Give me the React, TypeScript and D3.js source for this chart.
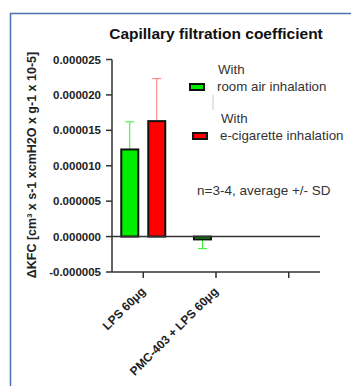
import React from "react"
import * as d3 from "d3"

const W = 351
const H = 386

const categories = ["LPS 60μg", "PMC-403 + LPS 60μg", ""]
const seriesNames = ["With\nroom air inhalation", "With\ne-cigarette inhalation"]
const seriesColors = ["#00ee00", "#ff0000"]
const errorColors = ["#33ee33", "#f77"]
const roomAir = [0.0000123, -0.0000004, null]
const roomAirSD = [0.0000039, 0.0000013, null]
const eCig = [0.0000163, 0, null]
const eCigSD = [0.000006, 0, null]
const yTicks = [0.000025, 0.00002, 0.000015, 0.00001, 0.000005, 0, -0.000005]

const FONT = "'Liberation Sans', Arial, sans-serif"
const AXIS = "#333"

export default function App() {
  const x0 = 112
  const x1 = 320
  const y = d3.scaleLinear().domain([-0.000005, 0.000025]).range([272, 59.5])
  const x = d3.scalePoint<string>().domain(categories).range([x0, x1]).padding(0.43)
  const sub = d3.scaleBand<number>().domain([0, 1]).range([-22, 22]).paddingInner(0.37)
  const series = [
    { values: roomAir, sd: roomAirSD },
    { values: eCig, sd: eCigSD },
  ]

  return (
    <svg width={W} height={H} style={{ position: "absolute", left: 0, top: 0, background: "#fff" }}>
      {/* frame */}
      <path d={`M10.5,${H} V13.5 H${W}`} fill="none" stroke="#4a72b0" strokeWidth={1.5} />

      <text x={216} y={39} textAnchor="middle" fontFamily={FONT} fontWeight="bold" fontSize={15.5} fill="#111">
        Capillary filtration coefficient
      </text>

      {/* y label */}
      <text
        transform={`translate(36, 165) rotate(-90)`}
        textAnchor="middle"
        fontFamily={FONT}
        fontWeight="bold"
        fontSize={12.5}
        fill="#222"
      >
        ΔKFC [cm³ x s-1 xcmH2O x g-1 x 10-5]
      </text>

      {/* bars */}
      {series.map((s, si) =>
        categories.map((c, ci) => {
          const v = s.values[ci]
          if (v == null) return null
          const sd = s.sd[ci] ?? 0
          const cx = (x(c) ?? 0) + (sub(si) ?? 0)
          const bw = sub.bandwidth()
          const mid = cx + bw / 2
          const yv = y(v)
          const y0 = y(0)
          const yErr = y(v >= 0 ? v + sd : v - sd)
          return (
            <g key={`${si}-${ci}`}>
              {sd > 0 && (
                <g stroke={errorColors[si]} strokeWidth={1}>
                  <line x1={mid} x2={mid} y1={yv} y2={yErr} />
                  <line x1={mid - 4.5} x2={mid + 4.5} y1={yErr} y2={yErr} />
                </g>
              )}
              {v !== 0 && (
                <rect
                  x={cx}
                  y={Math.min(yv, y0)}
                  width={bw}
                  height={Math.abs(y0 - yv)}
                  fill={seriesColors[si]}
                  stroke="#111"
                  strokeWidth={2}
                />
              )}
            </g>
          )
        })
      )}

      {/* y axis */}
      <line x1={x0} x2={x0} y1={y(0.000025)} y2={y(-0.000005)} stroke={AXIS} strokeWidth={1.5} />
      {yTicks.map(t => (
        <g key={t}>
          <line x1={x0 - 6} x2={x0} y1={y(t)} y2={y(t)} stroke={AXIS} strokeWidth={1.5} />
          <text
            x={x0 - 11}
            y={y(t)}
            dy="0.35em"
            textAnchor="end"
            fontFamily={FONT}
            fontWeight="bold"
            fontSize={11.5}
            fill="#222"
          >
            {d3.format(".6f")(t).replace("−", "-")}
          </text>
        </g>
      ))}

      {/* zero line */}
      <line x1={x0} x2={x1} y1={y(0)} y2={y(0)} stroke={AXIS} strokeWidth={1.5} />

      {/* x axis */}
      <line x1={x0} x2={x1} y1={y(-0.000005)} y2={y(-0.000005)} stroke={AXIS} strokeWidth={1.5} />
      {categories.map((c, i) => {
        const cx = x(c) ?? 0
        const yb = y(-0.000005)
        return (
          <g key={i}>
            <line x1={cx} x2={cx} y1={yb} y2={yb + 6} stroke={AXIS} strokeWidth={1.5} />
            {c && (
              <text
                transform={`translate(${cx + 3}, ${yb + 20}) rotate(-45)`}
                textAnchor="end"
                fontFamily={FONT}
                fontWeight="bold"
                fontSize={12}
                fill="#222"
              >
                {c}
              </text>
            )}
          </g>
        )
      })}

      {/* legend */}
      {seriesNames.map((name, i) => {
        const [l1, l2] = name.split("\n")
        const ly = [87, 136][i]
        const sx = [190, 193][i]
        return (
          <g key={i}>
            <rect x={sx} y={ly - 3} width={14} height={6} fill={seriesColors[i]} stroke="#111" strokeWidth={2} />
            <text fontFamily={FONT} fontSize={13.3} fill="#333">
              <tspan x={sx + 28} y={ly - 13}>{l1}</tspan>
              <tspan x={sx + 27} y={ly + 4}>{l2}</tspan>
            </text>
          </g>
        )
      })}
      <line x1={213} x2={213} y1={95} y2={110} stroke="#ccc" strokeWidth={1} />

      <text x={197} y={195} fontFamily={FONT} fontSize={13.5} fill="#333">
        n=3-4, average +/- SD
      </text>
    </svg>
  )
}
